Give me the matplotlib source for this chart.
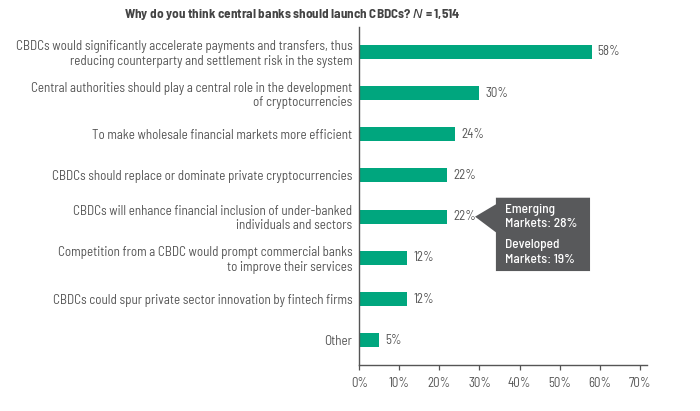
import matplotlib
matplotlib.use("Agg")
import matplotlib.pyplot as plt
from matplotlib.patches import Polygon

FONT = "Barlow Semi Condensed"
plt.rcParams['font.family'] = [FONT, 'DejaVu Sans']

categories = [
    "CBDCs would significantly accelerate payments and transfers, thus\nreducing counterparty and settlement risk in the system",
    "Central authorities should play a central role in the development\nof cryptocurrencies",
    "To make wholesale financial markets more efficient",
    "CBDCs should replace or dominate private cryptocurrencies",
    "CBDCs will enhance financial inclusion of under-banked\nindividuals and sectors",
    "Competition from a CBDC would prompt commercial banks\nto improve their services",
    "CBDCs could spur private sector innovation by fintech firms",
    "Other",
]
values = [58, 30, 24, 22, 22, 12, 12, 5]
xticks = [0, 10, 20, 30, 40, 50, 60, 70]
callout_lines = ["Emerging", "Markets: 28%", "Developed", "Markets: 19%"]
callout_index = 4
title = "Why do you think central banks should launch CBDCs? $\\it{N}$ = 1,514"

GREEN = "#00A67E"
TXT = "#555555"
BOX = "#58595B"

fig = plt.figure(figsize=(7.0, 4.11), dpi=100)
ax = fig.add_axes([0.5133, 0.1119, 0.4103, 0.8231])

ypos = list(range(len(values)))
ax.barh(ypos, values, height=0.34, color=GREEN, zorder=2)
ax.set_ylim(7.6, -0.61)
ax.set_xlim(0, 71.7)

for y, v in zip(ypos, values):
    ax.text(v + 1.5, y, f"{v}%", va="center", ha="left", fontsize=9.3, color=TXT)

ax.set_yticks(ypos)
ax.set_yticklabels(categories, fontsize=9.4, color=TXT, linespacing=1.12)
ax.tick_params(axis="y", length=0, pad=5)
ax.set_xticks(xticks)
ax.set_xticklabels([f"{t}%" for t in xticks], fontsize=9.3, color=TXT)
ax.tick_params(axis="x", length=3.6, width=0.9, color="#555555", pad=5)

for s in ["top", "right"]:
    ax.spines[s].set_visible(False)
for s in ["left", "bottom"]:
    ax.spines[s].set_color("#555555")
    ax.spines[s].set_linewidth(1.0)

# callout
yc = callout_index
tip_x = 28.9
bx0, bx1 = 34.1, 57.6
by0, by1 = yc - 0.46, yc + 1.32
poly = Polygon([(tip_x, yc), (bx0, yc - 0.30), (bx0, by0), (bx1, by0),
                (bx1, by1), (bx0, by1), (bx0, yc + 0.38)],
               closed=True, facecolor=BOX, edgecolor="none", clip_on=False, zorder=3)
ax.add_patch(poly)
ly = [yc - 0.17, yc + 0.18, yc + 0.68, yc + 1.05]
for t, yy in zip(callout_lines, ly):
    ax.text(bx0 + 2.3, yy, t, color="white", fontsize=9.6, va="center", ha="left",
            fontweight="medium", zorder=4, clip_on=False)

fig.text(0.417, 0.965, title, ha="center", va="center", fontsize=9.5,
         fontweight="bold", color="#444444")

fig.savefig("out.png", dpi=100)
